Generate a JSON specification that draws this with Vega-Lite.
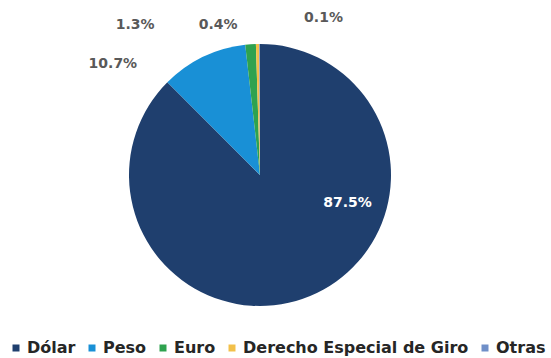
{
  "$schema": "https://vega.github.io/schema/vega-lite/v6.json",
  "autosize": "none",
  "width": 520,
  "height": 350,
  "padding": {"left": 0, "top": 0, "right": 31, "bottom": 8},
  "background": "white",
  "data": {
    "values": [
      {"name": "Dólar", "value": 0.875},
      {"name": "Peso", "value": 0.107},
      {"name": "Euro", "value": 0.013},
      {"name": "Derecho Especial de Giro", "value": 0.004},
      {"name": "Otras", "value": 0.001}
    ]
  },
  "encoding": {
    "theta": {"field": "value", "type": "quantitative", "stack": true},
    "order": {"field": "value", "sort": "descending"}
  },
  "layer": [
    {
      "mark": {"type": "arc", "outerRadius": 131},
      "encoding": {
        "color": {
          "field": "name",
          "type": "nominal",
          "scale": {
            "domain": ["Dólar", "Peso", "Euro", "Derecho Especial de Giro", "Otras"],
            "range": ["#1f3f6e", "#1990d6", "#2ea24f", "#f2c04a", "#6f8fc8"]
          },
          "legend": {
            "title": null,
            "orient": "none",
            "direction": "horizontal",
            "legendX": 8,
            "legendY": 340,
            "symbolType": "square",
            "symbolSize": 49,
            "symbolStrokeWidth": 0,
            "labelFont": "DejaVu Sans",
            "labelFontWeight": "bold",
            "labelFontSize": 16,
            "labelColor": "#262626",
            "labelOffset": 3,
            "columnPadding": 8,
            "labelLimit": 400
          }
        }
      }
    },
    {
      "mark": {"type": "text", "radius": 30, "dx": 76, "dy": 0, "font": "DejaVu Sans", "fontWeight": "bold", "fontSize": 14, "color": "white"},
      "encoding": {"text": {"condition": {"test": "datum.name === 'Dólar'", "field": "value", "type": "quantitative", "format": ".1%"}, "value": ""}}
    },
    {
      "mark": {"type": "text", "radius": 150, "dx": -82, "dy": 24, "font": "DejaVu Sans", "fontWeight": "bold", "fontSize": 14, "color": "#595959"},
      "encoding": {"text": {"condition": {"test": "datum.name === 'Peso'", "field": "value", "type": "quantitative", "format": ".1%"}, "value": ""}}
    },
    {
      "mark": {"type": "text", "radius": 150, "dx": -114, "dy": 0, "font": "DejaVu Sans", "fontWeight": "bold", "fontSize": 14, "color": "#595959"},
      "encoding": {"text": {"condition": {"test": "datum.name === 'Euro'", "field": "value", "type": "quantitative", "format": ".1%"}, "value": ""}}
    },
    {
      "mark": {"type": "text", "radius": 150, "dx": -39, "dy": 0, "font": "DejaVu Sans", "fontWeight": "bold", "fontSize": 14, "color": "#595959"},
      "encoding": {"text": {"condition": {"test": "datum.name === 'Derecho Especial de Giro'", "field": "value", "type": "quantitative", "format": ".1%"}, "value": ""}}
    },
    {
      "mark": {"type": "text", "radius": 157, "dx": 64, "dy": 0, "font": "DejaVu Sans", "fontWeight": "bold", "fontSize": 14, "color": "#595959"},
      "encoding": {"text": {"condition": {"test": "datum.name === 'Otras'", "field": "value", "type": "quantitative", "format": ".1%"}, "value": ""}}
    }
  ],
  "config": {"view": {"stroke": null}}
}
